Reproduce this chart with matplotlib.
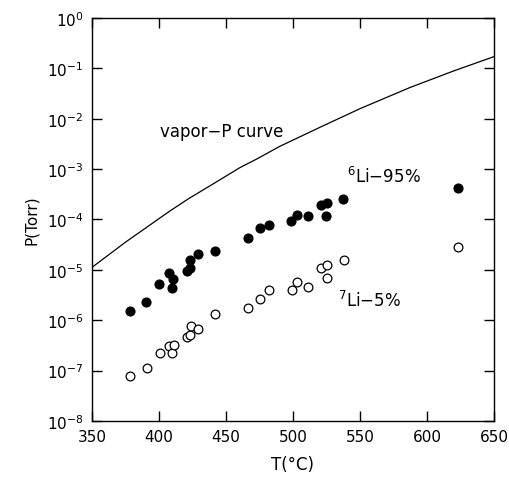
import numpy as np
import matplotlib
matplotlib.use("Agg")
from matplotlib import pyplot as plt
from matplotlib import ticker as mticker


# 6Li-95% sample (filled circles), T in deg C, P in Torr (log10)
li6_temp = [378.4, 390.5, 400.2, 407.2, 409.4, 410.7, 420.7, 423.1, 423.4, 429.1,
            441.5, 466.2, 475.6, 481.8, 498.7, 502.9, 511.2, 520.9, 525.1, 524.6,
            537.6, 623.1]
li6_logp = [-5.81, -5.63, -5.28, -5.07, -5.36, -5.18, -5.02, -4.97, -4.80, -4.68,
            -4.63, -4.36, -4.16, -4.11, -4.03, -3.91, -3.93, -3.71, -3.67, -3.93,
            -3.59, -3.37]

# 7Li-5% (open circles)
li7_temp = [378.4, 390.7, 400.4, 407.2, 409.7, 411.2, 420.7, 423.1, 423.6, 429.3,
            441.7, 466.6, 475.6, 482.1, 499.0, 503.2, 511.4, 520.9, 525.1, 525.1,
            537.8, 623.1]
li7_logp = [-7.11, -6.95, -6.66, -6.52, -6.66, -6.50, -6.33, -6.29, -6.12, -6.17,
            -5.88, -5.76, -5.57, -5.40, -5.39, -5.25, -5.34, -4.97, -4.90, -5.17,
            -4.80, -4.54]

# vapor pressure curve
curve_temp = [350, 375, 408.2, 421.9, 440, 460.4, 472.9, 490, 520.1, 550, 587.3, 620, 650.7]
curve_logp = [-4.95, -4.45, -3.83, -3.59, -3.30, -2.97, -2.80, -2.55, -2.17, -1.80, -1.38, -1.05, -0.76]

x_ticks = [350, 400, 450, 500, 550, 600, 650]


def to_p(logp):
    return 10.0 ** np.array(logp)


fig = plt.figure(figsize=(5.10, 4.81), dpi=100)
ax = fig.add_axes([0.1804, 0.1227, 0.7882, 0.8378])

ax.plot(curve_temp, to_p(curve_logp), color="black", lw=0.9)
ax.plot(li6_temp, to_p(li6_logp), "o", color="black", ms=6.3, mec="black")
ax.plot(li7_temp, to_p(li7_logp), "o", mfc="white", mec="black", ms=6.3, mew=0.9)

ax.set_yscale("log")
ax.set_xlim(350, 650)
ax.set_ylim(1e-8, 1e0)
ax.set_xticks(x_ticks)
ax.yaxis.set_major_locator(mticker.LogLocator(base=10, numticks=20))
ax.yaxis.set_minor_locator(mticker.NullLocator())
ax.tick_params(which="major", direction="in", length=7, width=1.0,
               top=True, right=True, labelsize=11, pad=6)
for sp in ax.spines.values():
    sp.set_linewidth(1.0)

ax.set_xlabel("T(\u00b0C)", fontsize=12, labelpad=8)
ax.set_ylabel("P(Torr)", fontsize=11, labelpad=6)

ax.text(400.7, 10 ** -2.34, "vapor\u2212P curve", fontsize=12, va="baseline", ha="left")
ax.text(540.3, 10 ** -3.26, r"$^{6}$Li$-$95%", fontsize=12, va="baseline", ha="left")
ax.text(533.6, 10 ** -5.72, r"$^{7}$Li$-$5%", fontsize=12, va="baseline", ha="left")

fig.savefig("out.png", dpi=100)
